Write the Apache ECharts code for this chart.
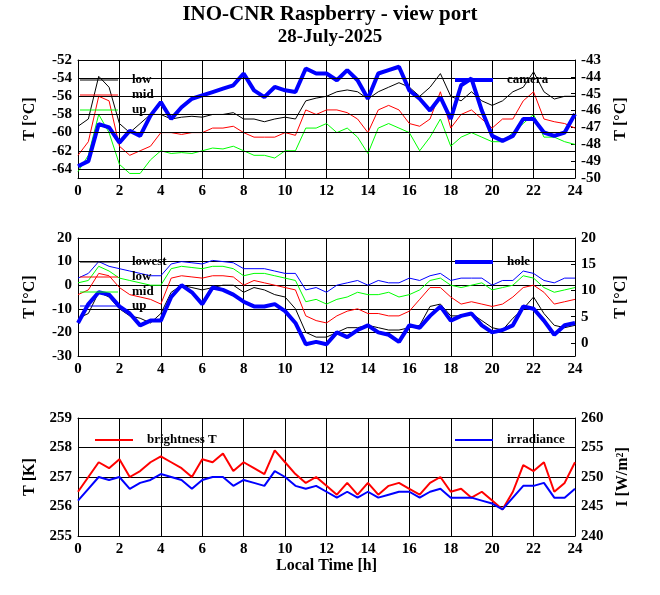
<!DOCTYPE html>
<html>
<head>
<meta charset="utf-8">
<title>INO-CNR Raspberry - view port</title>
<script src="https://cdn.jsdelivr.net/npm/echarts@6/dist/echarts.min.js"></script>
<style>body{margin:0;background:#fff}</style>
</head>
<body>
<div id="chart" style="width:660px;height:595px"></div>
<script>
// hours, every half hour
const hours = [];
for (let i = 0; i <= 48; i++) hours.push(i / 2);

// panel 1 (sky temperatures, left axis) and camera (right axis)
const skyLow = [-59.3,-58.5,-53.8,-55,-59,-60,-59,-58,-58,-58.5,-58.3,-58.2,-58.3,-58,-58,-57.8,-58.5,-58.5,-58.8,-58.5,-58.3,-58.5,-56.5,-56.2,-56,-55.5,-55.3,-55.5,-56.3,-55.5,-55,-54.5,-55,-56,-55,-53.5,-56,-56.5,-55.5,-56.5,-57,-56.5,-55.5,-55,-53.3,-55.5,-56.3,-56,-56];
const skyMid = [-62.5,-61,-56,-56.5,-61.5,-62.5,-62,-61.5,-60,-60,-60.2,-60,-60,-59.5,-59.5,-59.3,-60,-60.5,-60.5,-60.5,-60,-60.3,-57.5,-58,-57.5,-57.5,-57.8,-58.5,-60,-57.5,-57,-57.5,-59,-59.3,-58.5,-55.5,-59.5,-58,-57.5,-58.5,-59.5,-58.5,-58.5,-56.5,-55.5,-58.5,-58.8,-59,-59.5];
const skyUp = [-64.3,-62.5,-58,-60,-63.5,-64.5,-64.5,-63,-62,-62.3,-62.2,-62.3,-62,-61.7,-61.8,-61.5,-62,-62.5,-62.5,-62.8,-62,-62,-59.5,-59.5,-59,-60,-59.5,-60.5,-62.3,-59.5,-59,-59.5,-60,-62,-60.5,-58.5,-61.5,-60.5,-60,-60.5,-61,-61,-60,-59,-58,-60.5,-60.5,-61,-61.3];
const camera = [-49.3,-49,-46.8,-47,-47.9,-47.2,-47.5,-46.3,-45.5,-46.5,-45.8,-45.3,-45.1,-44.9,-44.7,-44.5,-43.8,-44.8,-45.2,-44.6,-44.8,-44.9,-43.5,-43.8,-43.8,-44.2,-43.6,-44.2,-45.3,-43.8,-43.6,-43.4,-44.8,-45.3,-46,-45.2,-46.5,-44.5,-44.1,-46,-47.5,-47.8,-47.5,-46.5,-46.5,-47.3,-47.5,-47.3,-46.2];

// panel 2
const lowest = [-14,-12,-3,-5,-10,-13,-14,-16,-12,-3,0,-1,-2,-1,0,0,-3,-1,-2,-4,-5,-10,-20,-22,-22,-20,-18,-18,-17,-18,-19,-19,-18,-17,-9,-8,-13,-13,-12,-15,-18,-19,-14,-10,-5,-12,-17,-18,-17];
const low = [-4,-2,5,4,-1,-4,-5,-6,-8,3,4,3.5,3,4,4,3.5,0,2,1,0,-1,-2,-13,-15,-16,-13,-11,-10,-12,-12,-13,-13,-11,-6,-1,-1,-5,-8,-7,-8,-9,-8,-5,-1,0,-3,-8,-7,-6];
const mid = [1,2,8,6,3,2,1,0,0,7,8,7.5,7,8,8,7,4,5,5,4,3,2,-7,-6,-8,-6,-5,-3,-4,-4,-3,-5,-4,-2,2,3,0,-1,0,1,-2,-1,0,4,3,-1,-3,-2,-1];
const up = [3,5,10,8,7,6,5,4,4,9,10,9.5,9,10.5,10,9.5,7,7,7,6,5,5,-2,-1,-3,0,1,2,0,2,1,1,3,2,4,5,2,3,3,3,0,2,2,6,5,2,1,3,3];
const hole = [-16,-8,-3,-4,-9,-12,-17,-15,-15,-5,0,-3,-8,-1,-2,-4,-7,-9,-9,-8,-11,-16,-25,-24,-25,-20,-22,-19,-17,-20,-21,-24,-17,-18,-13,-9,-15,-13,-12,-17,-20,-19,-17,-9,-10,-15,-21,-17,-16];

// panel 3
const brightT = [256.5,257,257.5,257.3,257.6,257,257.2,257.5,257.7,257.5,257.3,257,257.6,257.5,257.8,257.2,257.5,257.3,257.1,257.9,257.5,257.1,256.8,257,256.7,256.4,256.8,256.4,256.8,256.4,256.7,256.8,256.6,256.4,256.8,257,256.5,256.6,256.3,256.5,256.2,255.9,256.5,257.4,257.2,257.5,256.5,256.8,257.5];
const irradiance = [246,248,250,249.5,250,248,249,249.5,250.5,250,249.5,248,249.5,250,250,248.5,249.5,249,248.5,251,250,248.5,248,248.5,247.5,246.5,247.5,246.5,247.5,246.5,247,247.5,247.5,246.5,247.5,248,246.5,246.5,246.5,246,245.5,244.5,246.5,248.5,248.5,249,246.5,246.5,248];

// tick labels for the axes that do not start on a tick
const skyTicks = [-64, -62, -60, -58, -56, -54, -52];
const holeTicks = [0, 5, 10, 15, 20];

const pair = arr => arr.map((v, i) => [hours[i], v]);
const FONT = 'Liberation Serif';
const lab = {color:'#000', fontFamily:FONT, fontWeight:'bold', fontSize:15};
const tops = [60, 238, 418], H = 118;

const grids = tops.map(t => ({left:78, right:85, top:t, height:H, show:false}));
const xAxes = tops.map((t, i) => ({
  type:'value', gridIndex:i, min:0, max:24, interval:2,
  axisLine:{onZero:false, lineStyle:{color:'#000'}},
  axisTick:{inside:true, length:4, lineStyle:{color:'#000'}},
  axisLabel:Object.assign({margin:6}, lab),
  splitLine:{lineStyle:{color:'#000', width:1}},
  name: i === 2 ? 'Local Time [h]' : '', nameLocation:'middle', nameGap:22,
  nameTextStyle:Object.assign({}, lab, {fontSize:16})
}));
// frame on top
xAxes.push(...tops.map((t, i) => ({type:'value', gridIndex:i, position:'top', min:0, max:24,
  axisLine:{onZero:false, lineStyle:{color:'#000'}}, axisTick:{show:false}, axisLabel:{show:false}, splitLine:{show:false}})));

function yAx(gi, min, max, interval, name, pos, opts) {
  return Object.assign({
    type:'value', gridIndex:gi, min, max, interval, position:pos,
    name, nameLocation:'middle', nameGap:pos === 'left' ? 40 : 38,
    nameTextStyle:Object.assign({}, lab, {fontSize:16}),
    axisLine:{show:true, onZero:false, lineStyle:{color:'#000'}},
    axisTick:{inside:true, length:4, lineStyle:{color:'#000'}},
    axisLabel:Object.assign({margin:6}, lab),
    splitLine:{show:pos === 'left', lineStyle:{color:'#000', width:1}}
  }, opts || {});
}
const yAxes = [
  yAx(0, -65, -52, null, 'T [°C]', 'left', {
    axisTick:{inside:true, length:4, customValues:skyTicks, lineStyle:{color:'#000'}},
    axisLabel:Object.assign({margin:6, customValues:skyTicks}, lab)}),
  yAx(0, -50, -43, 1, 'T [°C]', 'right'),
  yAx(1, -30, 20, 10, 'T [°C]', 'left'),
  yAx(1, -2.5, 20, null, 'T [°C]', 'right', {
    axisTick:{inside:true, length:4, customValues:holeTicks, lineStyle:{color:'#000'}},
    axisLabel:Object.assign({margin:6, customValues:holeTicks}, lab)}),
  yAx(2, 255, 259, 1, 'T [K]', 'left'),
  yAx(2, 240, 260, 5, 'I [W/m²]', 'right')
];

function line(name, x, y, data, color, w) {
  return {name, type:'line', xAxisIndex:x, yAxisIndex:y, data:pair(data), showSymbol:false,
    smooth:false, lineStyle:{color, width:w}, itemStyle:{color}, animation:false, z: w > 2 ? 3 : 2};
}
const series = [
  line('low', 0, 0, skyLow, '#000', 1),
  line('mid', 0, 0, skyMid, '#f00', 1),
  line('up', 0, 0, skyUp, '#0f0', 1),
  line('camera', 0, 1, camera, '#00f', 4),
  line('lowest', 1, 2, lowest, '#000', 1),
  line('low', 1, 2, low, '#f00', 1),
  line('mid', 1, 2, mid, '#0f0', 1),
  line('up', 1, 2, up, '#00f', 1),
  line('hole', 1, 2, hole, '#00f', 4),
  line('brightness T', 2, 4, brightT, '#f00', 2),
  line('irradiance', 2, 5, irradiance, '#00f', 2)
];
// horizontal grid lines of the top panel
series[0].markLine = {silent:true, symbol:'none', label:{show:false}, animation:false,
  lineStyle:{color:'#000', width:1, type:'solid'}, data:skyTicks.map(v => ({yAxis:v}))};

// legend keys drawn inside the plots
const keys = [
  [80, 'low', '#000', 1, 80], [95, 'mid', '#f00', 1, 80], [110, 'up', '#0f0', 1, 80],
  [80, 'camera', '#00f', 4, 455],
  [262, 'lowest', '#000', 1, 80], [277, 'low', '#f00', 1, 80], [292, 'mid', '#0f0', 1, 80], [306, 'up', '#00f', 1, 80],
  [262, 'hole', '#00f', 4, 455],
  [440, 'brightness T', '#f00', 2, 95], [440, 'irradiance', '#00f', 2, 455]
];
const graphic = [
  {type:'text', left:'center', top:4, style:{text:'INO-CNR Raspberry - view port', font:'bold 21px "Liberation Serif"', fill:'#000'}},
  {type:'text', left:'center', top:28, style:{text:'28-July-2025', font:'bold 19px "Liberation Serif"', fill:'#000'}}
];
keys.forEach(([y, t, c, w, x]) => {
  graphic.push({type:'line', shape:{x1:x, y1:y, x2:x + 38, y2:y}, style:{stroke:c, lineWidth:w}, z:10});
  graphic.push({type:'text', x:x + 52, y:y - 7, style:{text:t, font:'bold 13px "Liberation Serif"', fill:'#000'}, z:10});
});

const chart = echarts.init(document.getElementById('chart'));
chart.setOption({backgroundColor:'#fff', animation:false, grid:grids, xAxis:xAxes, yAxis:yAxes, series, graphic});
</script>
</body>
</html>
